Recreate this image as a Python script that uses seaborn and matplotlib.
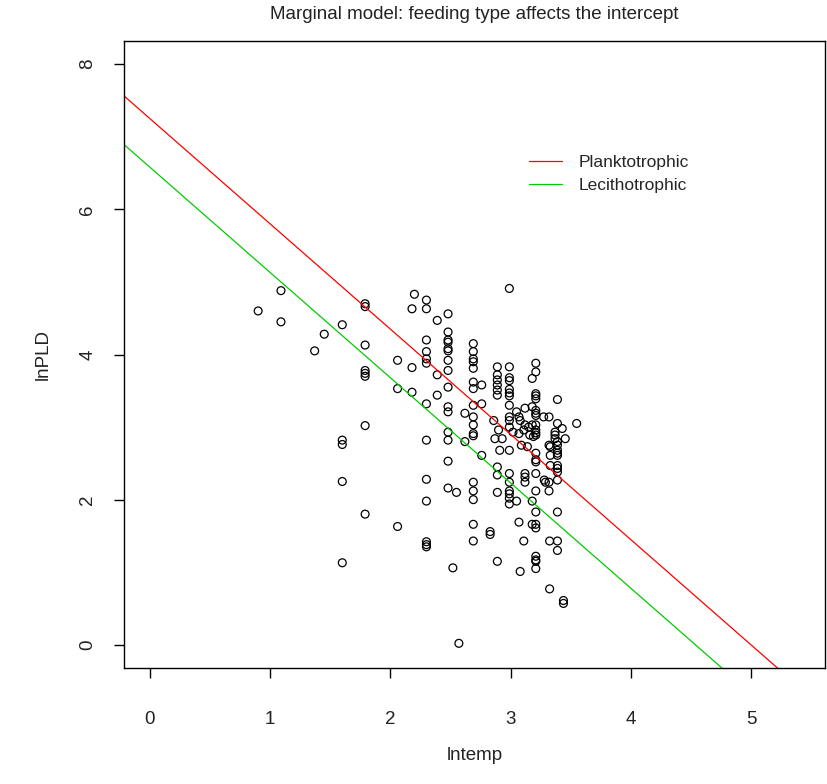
import numpy as np
import pandas as pd
import matplotlib
matplotlib.use("Agg")
import matplotlib.pyplot as plt
import seaborn as sns
from matplotlib.lines import Line2D

# puntos (lntemp, lnPLD)
lntemp = [
    0.90, 1.09, 1.09, 1.45, 1.37, 1.60, 1.60, 1.60, 1.60, 1.60,
    1.79, 1.79, 1.79, 1.79, 1.79, 1.79, 1.79, 1.79,
    2.06, 2.06, 2.06,
    2.20, 2.18, 2.18, 2.18,
    2.30, 2.30, 2.30, 2.30, 2.30, 2.30, 2.30, 2.30, 2.30, 2.30, 2.30, 2.30, 2.30,
    2.39, 2.39, 2.39,
    2.48, 2.48, 2.48, 2.48, 2.48, 2.48, 2.48, 2.48, 2.48, 2.48, 2.48, 2.48, 2.48, 2.48, 2.48,
    2.52, 2.55, 2.57,
    2.62, 2.62,
    2.69, 2.69, 2.69, 2.69, 2.69, 2.69, 2.69, 2.69, 2.69, 2.69, 2.69, 2.69, 2.69, 2.69, 2.69, 2.69, 2.69,
    2.76, 2.76, 2.76, 2.83, 2.83,
    2.89, 2.89, 2.89, 2.89, 2.89, 2.89, 2.86, 2.90, 2.87, 2.91, 2.89, 2.89, 2.89, 2.89,
    2.93,
    2.99, 2.99, 2.99, 2.99, 2.99, 2.99, 2.99, 2.99, 2.99, 2.99, 2.99, 2.99, 2.99, 2.99, 2.99, 2.99, 2.99, 2.99,
    3.02, 3.05, 3.05,
    3.07, 3.08, 3.07, 3.07, 3.08, 3.09, 3.11, 3.11,
    3.12, 3.12, 3.12, 3.12, 3.12, 3.14, 3.15,
    3.16, 3.18, 3.18, 3.18, 3.18, 3.18, 3.19,
    3.21, 3.21, 3.21, 3.21, 3.21, 3.21, 3.21, 3.21, 3.21, 3.21, 3.21, 3.21, 3.21, 3.21,
    3.21, 3.21, 3.21, 3.21, 3.21, 3.21, 3.21, 3.21, 3.21, 3.21,
    3.275, 3.28, 3.29,
    3.32, 3.32, 3.33, 3.33, 3.33, 3.32, 3.32, 3.325, 3.325,
    3.37, 3.37, 3.37,
    3.39, 3.39, 3.39, 3.39, 3.39, 3.39, 3.39, 3.39, 3.39, 3.39, 3.39, 3.39, 3.39, 3.39,
    3.43, 3.455, 3.44, 3.44, 3.55,
]
lnpld = [
    4.60, 4.88, 4.45, 4.28, 4.05, 4.41, 2.82, 2.76, 2.25, 1.13,
    4.70, 4.66, 4.13, 3.78, 3.74, 3.70, 3.02, 1.80,
    3.92, 3.53, 1.63,
    4.83, 4.63, 3.82, 3.48,
    4.75, 4.63, 4.20, 4.04, 3.94, 3.88, 3.32, 2.82, 2.28, 1.98, 1.42, 1.38, 1.35,
    4.47, 3.72, 3.44,
    4.56, 4.31, 4.20, 4.17, 4.08, 4.05, 3.92, 3.78, 3.55, 3.28, 3.21, 2.93, 2.82, 2.53, 2.16,
    1.06, 2.10, 0.02,
    3.19, 2.80,
    4.15, 4.04, 3.94, 3.90, 3.81, 3.62, 3.53, 3.30, 3.14, 3.03, 2.91, 2.88, 2.24, 2.12, 2.00, 1.66, 1.43,
    3.58, 3.32, 2.61, 1.56, 1.52,
    3.83, 3.72, 3.65, 3.58, 3.51, 3.44, 3.09, 2.96, 2.84, 2.68, 2.45, 2.34, 2.10, 1.15,
    2.84,
    4.91, 3.83, 3.68, 3.64, 3.52, 3.47, 3.43, 3.30, 3.14, 3.09, 3.00, 2.68, 2.36, 2.24, 2.12, 2.08, 2.02, 1.94,
    2.93, 3.21, 1.98,
    3.14, 3.09, 2.91, 1.69, 1.01, 2.75, 2.96, 1.43,
    3.26, 3.03, 2.36, 2.31, 2.24, 2.73, 3.00,
    2.89, 3.67, 3.28, 3.03, 1.98, 1.66, 2.87,
    3.88, 3.76, 3.46, 3.43, 3.39, 3.23, 3.19, 3.16, 3.03, 2.96, 2.92, 2.89, 2.64, 2.55,
    2.52, 2.36, 2.12, 1.83, 1.66, 1.61, 1.22, 1.17, 1.15, 1.05,
    3.14, 2.27, 2.24,
    3.14, 2.75, 2.73, 2.61, 2.47, 2.12, 2.24, 1.43, 0.77,
    2.93, 2.89, 2.84,
    3.38, 3.05, 2.80, 2.75, 2.68, 2.64, 2.61, 2.47, 2.43, 2.38, 2.27, 1.83, 1.43, 1.30,
    2.98, 2.84, 0.61, 0.57, 3.05,
]

# rectas del modelo marginal
tipos = ["Planktotrophic", "Lecithotrophic"]
interceptos = [7.25, 6.58]
pendiente = -1.45
colores = ["#ff0000", "#00cc00"]

df = pd.DataFrame({"lntemp": lntemp, "lnPLD": lnpld})

sns.set_theme(style="white")
plt.rcParams["font.family"] = ["Liberation Sans", "DejaVu Sans"]

fig = plt.figure(figsize=(8.27, 7.84), dpi=100)
ax = fig.add_axes([124 / 827, 116 / 784, 701 / 827, 627 / 784])

sns.scatterplot(data=df, x="lntemp", y="lnPLD", ax=ax, marker="o", s=32,
                facecolor="none", edgecolor="black", linewidth=0.9, legend=False)

for b, c in zip(interceptos, colores):
    ax.axline((0, b), slope=pendiente, color=c, linewidth=0.9)

ax.set_xlim(-0.216, 5.616)
ax.set_ylim(-0.32, 8.32)
ax.set_xticks([0, 1, 2, 3, 4, 5])
ax.set_yticks([0, 2, 4, 6, 8])

for s in ax.spines.values():
    s.set_color("black")
    s.set_linewidth(1.0)

ax.tick_params(axis="both", direction="out", length=7, width=1, color="black",
               labelsize=13.5, labelcolor="#222222")
ax.tick_params(axis="x", bottom=True, pad=24)
ax.tick_params(axis="y", left=True, pad=13)
for lab in ax.get_yticklabels():
    lab.set_rotation(90)
    lab.set_va("center")

ax.set_xlabel("lntemp", fontsize=13.5, labelpad=14, color="#222222")
ax.set_ylabel("lnPLD", fontsize=13.5, labelpad=20, color="#222222")
ax.set_title("Marginal model: feeding type affects the intercept", fontsize=13.5,
             pad=16, color="#222222")

handles = [Line2D([0], [0], color=c, linewidth=0.9) for c in colores]
ax.legend(handles, tipos, loc="upper left", bbox_to_anchor=(0.578, 0.818), frameon=False,
          fontsize=12.5, handlelength=1.9, handletextpad=0.95, labelspacing=0.45,
          borderaxespad=0, borderpad=0)

fig.savefig("out.png", dpi=100)
